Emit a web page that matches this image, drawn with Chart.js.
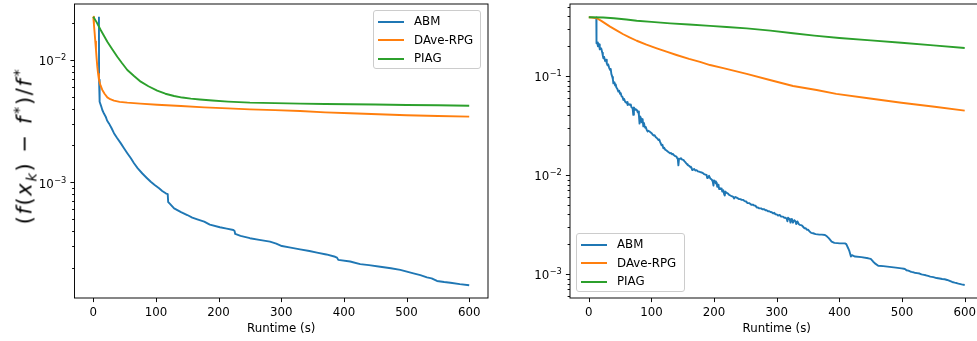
<!DOCTYPE html>
<html>
<head>
<meta charset="utf-8">
<script src="https://cdn.jsdelivr.net/npm/chart.js@4.4.1/dist/chart.umd.min.js"></script>
<style>
html,body{margin:0;padding:0;background:#fff;}
body{width:977px;height:341px;overflow:hidden;position:relative;font-family:"DejaVu Sans",sans-serif;}
canvas{position:absolute;top:0;}
#c1{left:0;}
#c2{left:490px;}
.legend{position:absolute;box-sizing:border-box;border:1px solid #cccccc;border-radius:3px;background:rgba(255,255,255,0.8);font-size:11.8px;color:#000;}
.legend .row{position:absolute;left:0;right:0;height:0;}
.legend .sw{position:absolute;left:4px;width:26px;height:2px;top:-1px;}
.legend .lb{position:absolute;left:40px;top:-7.5px;line-height:15px;white-space:nowrap;}
#ylab{position:absolute;left:25px;top:146px;transform:translate(-50%,-50%) rotate(-90deg);white-space:nowrap;font-size:21px;color:#000;line-height:1;letter-spacing:1.6px;}
#ylab i{font-style:italic;}
#ylab sub,#ylab sup{font-size:70%;line-height:0;}
#ylab sup{margin-left:1px;}
#ylab .op{padding:0 1px;}
</style>
</head>
<body>
<canvas id="c1" width="490" height="341"></canvas>
<canvas id="c2" width="500" height="341"></canvas>
<div id="ylab">(<i>f</i>(<i>x</i><sub><i>k</i></sub>)<span class="op"> − </span><i>f</i><sup>*</sup>)/<i>f</i><sup>*</sup></div>
<div id="leg1" class="legend" style="left:373px;top:10px;width:108px;height:59px;"></div>
<div id="leg2" class="legend" style="left:576px;top:233px;width:109px;height:59px;"></div>
<script>
// ---------- data ----------
const seriesNames = ['ABM', 'DAve-RPG', 'PIAG'];
const seriesColors = ['#1f77b4', '#ff7f0e', '#2ca02c'];

const xTicks = [0, 100, 200, 300, 400, 500, 600];
const xTickLabels = ['0', '100', '200', '300', '400', '500', '600'];

// left panel: [runtime, (f(x_k)-f*)/f*]
const leftABM = [[9.0,0.0226],[9.2,0.0069],[9.6,0.0068],[10.0,0.0046],[10.7,0.00456],[12.5,0.0042],[14.4,0.0039],[17,0.00365],[19.8,0.00344],[22,0.0032],[25,0.00303],[29,0.00278],[33,0.00252],[38,0.0023],[43.7,0.00209],[49,0.0019],[54.3,0.00173],[60,0.00157],[65,0.00143],[71,0.0013],[78.3,0.00118],[85,0.00109],[91.7,0.00101],[98,0.00095],[105,0.000893],[110,0.00085],[115.6,0.000813],[118.8,0.0008],[119.5,0.00069],[122,0.00067],[129,0.000612],[140,0.00057],[150,0.00054],[158,0.000515],[166,0.000498],[177,0.000477],[186,0.00045],[202,0.000429],[213,0.000418],[223.6,0.000407],[225.5,0.0004],[226.5,0.000378],[235,0.000365],[250,0.000349],[265,0.000338],[282,0.000327],[292,0.000315],[301,0.000301],[315,0.000292],[330,0.000283],[345,0.000274],[357,0.000266],[372,0.000257],[386,0.000246],[389,0.000242],[391,0.000232],[410,0.000225],[426,0.000214],[440,0.00021],[458,0.000204],[475,0.000198],[490,0.000192],[511,0.00018],[522,0.000174],[532.6,0.000167],[540,0.000164],[548.6,0.000156],[560,0.000153],[570,0.000151],[585,0.000147],[600,0.000144]];
const leftDAve = [[0,0.0226],[1,0.0195],[2.2,0.01653],[3.2,0.0142],[4.3,0.01208],[5.3,0.0103],[6.4,0.00882],[7.7,0.0077],[9.1,0.00686],[11.5,0.0062],[14.4,0.00569],[18,0.0053],[22.4,0.00495],[27,0.00478],[33,0.00465],[42,0.00455],[54.3,0.00448],[75,0.0044],[102,0.00431],[140,0.0042],[177,0.0041],[215,0.00402],[250,0.00395],[290,0.00389],[330,0.00383],[370,0.00373],[410,0.00367],[455,0.0036],[500,0.00353],[550,0.00348],[600,0.00344]];
const leftPIAG = [[0,0.0226],[5,0.0205],[11.8,0.01758],[17,0.0158],[22.4,0.01411],[30,0.0123],[38.3,0.01064],[46,0.0094],[54.3,0.00828],[65,0.0074],[75.7,0.00665],[88,0.0061],[102,0.00561],[115,0.0053],[129,0.00508],[142,0.00493],[155.6,0.00483],[170,0.00475],[190,0.00466],[215,0.00457],[250,0.00448],[290,0.00444],[330,0.0044],[370,0.00437],[410,0.00435],[450,0.00432],[500,0.00429],[550,0.00426],[600,0.00423]];

// right panel
const rightABM = [[12,0.390],[12.3,0.214],[13.5,0.218],[14.5,0.200],[15.2,0.212],[16.5,0.208],[17.5,0.186],[19,0.192],[20,0.188],[21.5,0.172],[22.4,0.160],[23.3,0.151],[24.5,0.156],[26,0.142],[27.5,0.146],[28.7,0.134],[30,0.128],[31,0.131],[32.5,0.121],[34,0.115],[35,0.118],[36,0.105],[37.5,0.098],[38.5,0.092],[39.2,0.0844],[41,0.0862],[42,0.080],[43,0.082],[44,0.0765],[45.5,0.0742],[47.2,0.0695],[48.5,0.071],[50,0.066],[51,0.0672],[52,0.063],[54,0.061],[55.2,0.0573],[56.5,0.0585],[58,0.055],[60,0.0535],[61,0.0545],[62,0.051],[64,0.052],[65.9,0.051],[67,0.0515],[68,0.0485],[70,0.047],[71,0.0405],[72,0.048],[74,0.0455],[75,0.0462],[76.6,0.0454],[78,0.043],[79,0.0438],[80,0.040],[81,0.033],[82,0.039],[83.5,0.037],[84.3,0.034],[85,0.0365],[86,0.036],[87,0.031],[88,0.0335],[89,0.0315],[90,0.030],[91,0.0305],[92.5,0.0285],[94,0.0275],[95,0.028],[97,0.0275],[99,0.0268],[100.5,0.0264],[102,0.0255],[104,0.025],[105,0.0252],[107,0.024],[109,0.0235],[111,0.0226],[112.5,0.0228],[114,0.0215],[116,0.020],[117.5,0.0202],[119,0.0186],[120.5,0.0188],[122,0.018],[124,0.0177],[125,0.0175],[127,0.0171],[129.7,0.0166],[131,0.0167],[133,0.0162],[134.5,0.0163],[136,0.0158],[138,0.0155],[140,0.0153],[141,0.0148],[142,0.0146],[143,0.0125],[144,0.0145],[146,0.0146],[147,0.0148],[149,0.0143],[151,0.0142],[152.5,0.0138],[154,0.0135],[156,0.013],[157,0.0128],[158,0.0126],[160,0.0124],[161.6,0.0121],[163,0.0119],[164,0.0118],[165,0.0112],[166,0.0113],[168,0.0115],[170,0.0111],[172,0.0112],[174,0.0109],[176,0.0108],[178,0.0107],[180,0.0106],[182.8,0.0104],[184,0.0102],[186,0.0101],[188,0.0100],[189,0.0093],[190,0.0094],[192,0.0098],[194,0.0092],[196,0.0090],[197,0.0088],[198,0.0085],[199,0.0078],[200,0.0088],[201.5,0.0086],[203,0.0082],[204,0.0084],[205,0.0076],[206,0.0080],[207,0.0080],[208,0.0072],[209,0.0074],[211,0.0072],[212,0.0073],[213,0.0068],[214.7,0.0070],[216,0.0064],[217,0.0062],[218,0.0068],[220,0.0066],[222,0.0065],[224,0.0063],[226,0.0062],[228,0.0061],[230.6,0.0060],[232,0.0058],[234,0.0060],[236,0.0059],[238,0.0058],[240,0.0057],[242,0.0057],[244,0.0056],[246.6,0.0056],[248,0.0055],[250,0.0054],[251.5,0.0054],[253,0.0052],[256,0.0052],[258,0.0051],[259,0.0050],[260.5,0.0050],[262.5,0.0050],[264,0.0049],[266,0.0049],[268,0.0047],[270,0.0047],[272,0.0046],[275,0.0046],[277,0.0045],[280,0.0045],[282,0.0044],[283.8,0.0044],[286,0.0043],[288,0.0043],[290,0.00423],[292,0.0042],[294,0.0041],[296,0.00415],[298,0.0040],[300,0.0040],[302,0.0039],[305,0.00394],[307,0.0038],[310,0.0038],[312,0.0037],[314,0.0037],[316,0.0036],[317,0.0034],[318,0.0037],[320,0.0036],[321,0.0035],[322,0.0033],[324,0.0036],[326,0.0033],[328,0.0035],[330,0.0034],[331,0.0032],[333,0.0034],[335,0.0032],[337,0.00313],[340,0.0031],[342,0.0030],[344,0.0029],[346,0.0029],[348,0.0028],[350,0.0028],[352,0.0027],[355,0.0026],[358,0.00258],[362,0.00253],[368,0.0025],[372,0.0025],[376.9,0.00248],[380,0.0024],[383,0.0023],[387.6,0.00212],[392,0.00206],[400.8,0.00204],[408.8,0.00204],[411,0.0020],[414,0.00182],[416,0.0017],[418.4,0.0015],[420,0.00155],[425,0.0015],[435,0.00148],[446,0.00144],[450,0.00142],[454,0.00133],[456.7,0.00128],[462,0.00121],[470,0.0012],[480,0.00118],[490,0.00116],[499,0.00114],[503,0.00113],[505,0.00112],[507,0.00109],[510,0.00108],[513,0.00106],[515,0.00105],[518,0.00104],[520,0.00103],[524,0.00102],[528,0.00101],[531,0.00099],[535,0.00098],[538,0.00097],[541.6,0.000955],[545,0.00094],[550,0.00093],[555,0.00091],[560,0.0009],[564,0.00089],[568,0.000884],[572,0.00087],[576,0.00085],[580,0.00083],[584,0.000817],[587,0.00081],[590,0.0008],[595,0.000785],[600,0.000775]];
const rightDAve = [[0,0.392],[5,0.390],[12.8,0.383],[20,0.36],[34,0.315],[45,0.287],[55,0.264],[65,0.245],[76.5,0.227],[92,0.207],[108.5,0.19],[124,0.176],[140,0.163],[160,0.149],[177.5,0.139],[193.5,0.129],[214.7,0.12],[252,0.105],[289,0.0911],[326,0.0793],[363.7,0.0722],[395,0.066],[446,0.0595],[499,0.0537],[552,0.0489],[600,0.0447]];
const rightPIAG = [[0,0.392],[23,0.39],[40,0.383],[60,0.372],[76.5,0.362],[100,0.352],[130,0.34],[160,0.331],[193.5,0.321],[220,0.313],[252,0.303],[290,0.287],[326,0.27],[360,0.256],[400,0.242],[450,0.229],[499,0.217],[550,0.204],[600,0.192]];

// y tick values
const leftYMajor = [1e-3, 1e-2];
const leftYMajorLabels = ['−3', '−2'];
const leftYMinor = [2e-4,3e-4,4e-4,5e-4,6e-4,7e-4,8e-4,9e-4,2e-3,3e-3,4e-3,5e-3,6e-3,7e-3,8e-3,9e-3,2e-2];
const rightYMajor = [1e-3, 1e-2, 1e-1];
const rightYMajorLabels = ['−3', '−2', '−1'];
const rightYMinor = [6e-4,7e-4,8e-4,9e-4,2e-3,3e-3,4e-3,5e-3,6e-3,7e-3,8e-3,9e-3,2e-2,3e-2,4e-2,5e-2,6e-2,7e-2,8e-2,9e-2,2e-1,3e-1,4e-1,5e-1];

// ---------- rendering ----------
Chart.defaults.font.family = '"DejaVu Sans", sans-serif';
const FS = 11.8;

const axesPlugin = {
  id: 'axesDeco',
  afterDraw(chart, args, o) {
    const {ctx, chartArea: a, scales} = chart;
    ctx.save();
    ctx.strokeStyle = '#000';
    ctx.lineWidth = 0.95;
    ctx.strokeRect(a.left, a.top, a.right - a.left, a.bottom - a.top);
    const xs = scales.x, ys = scales.y;
    ctx.beginPath();
    xs.ticks.forEach(t => {
      const px = Math.round(xs.getPixelForValue(t.value)) + 0.5;
      ctx.moveTo(px, a.bottom); ctx.lineTo(px, a.bottom + 4.1);
    });
    ys.ticks.forEach(t => {
      const py = Math.round(ys.getPixelForValue(t.value)) + 0.5;
      const L = t.major ? 4.1 : 2.4;
      ctx.moveTo(a.left - L, py); ctx.lineTo(a.left, py);
    });
    ctx.stroke();
    ctx.fillStyle = '#000';
    ctx.textBaseline = 'alphabetic';
    ctx.textAlign = 'left';
    const sfs = FS * 0.7;
    o.major.forEach((v, i) => {
      const py = ys.getPixelForValue(v);
      const exp = o.labels[i];
      const right = a.left - 8.2;
      ctx.font = sfs + 'px "DejaVu Sans"';
      const supW = ctx.measureText(exp).width;
      ctx.font = FS + 'px "DejaVu Sans"';
      const baseW = ctx.measureText('10').width;
      const x0 = right - supW - baseW - 0.5;
      ctx.fillText('10', x0, py + 5.3);
      ctx.font = sfs + 'px "DejaVu Sans"';
      ctx.fillText(exp, x0 + baseW + 0.5, py + 0.3);
    });
    ctx.restore();
  }
};

function buildChart(id, series, yMin, yMax, yMajor, yMajorLabels, yMinor, yWidth, padRight) {
  const datasets = series.map((s, i) => ({
    label: seriesNames[i],
    data: s.map(p => ({x: p[0], y: p[1]})),
    borderColor: seriesColors[i],
    backgroundColor: seriesColors[i],
    borderWidth: 1.9,
    pointRadius: 0,
    fill: false,
    tension: 0,
    borderJoinStyle: 'round',
    order: 3 - i
  }));
  return new Chart(document.getElementById(id), {
    type: 'line',
    data: {datasets},
    plugins: [axesPlugin],
    options: {
      responsive: false,
      animation: false,
      devicePixelRatio: 1,
      events: [],
      layout: {padding: {top: 4, right: padRight, left: 0, bottom: 0}},
      plugins: {
        legend: {display: false},
        tooltip: {enabled: false},
        axesDeco: {major: yMajor, labels: yMajorLabels}
      },
      scales: {
        x: {
          type: 'linear', min: -30, max: 630,
          afterBuildTicks: s => { s.ticks = xTicks.map(v => ({value: v})); },
          afterFit: s => { s.height = 43; },
          grid: {display: false, drawTicks: false},
          border: {display: false},
          ticks: {autoSkip: false, maxRotation: 0, padding: 8, color: '#000', font: {size: FS},
                  callback: v => xTickLabels[xTicks.indexOf(v)]},
          title: {display: true, text: 'Runtime (s)', color: '#000', font: {size: FS}, padding: {top: 0, bottom: 5}}
        },
        y: {
          type: 'logarithmic', min: yMin, max: yMax,
          afterBuildTicks: s => {
            s.ticks = yMajor.map(v => ({value: v, major: true})).concat(yMinor.map(v => ({value: v, major: false})));
          },
          afterFit: s => { s.width = yWidth; },
          grid: {display: false, drawTicks: false},
          border: {display: false},
          ticks: {display: false}
        }
      }
    }
  });
}

buildChart('c1', [leftABM, leftDAve, leftPIAG], 1.132e-4, 0.0287, leftYMajor, leftYMajorLabels, leftYMinor, 74.5, 2);
buildChart('c2', [rightABM, rightDAve, rightPIAG], 5.72e-4, 0.5336, rightYMajor, rightYMajorLabels, rightYMinor, 80, 6.5);

function buildLegend(id) {
  const el = document.getElementById(id);
  const rowY = [10.5, 29, 47.5];
  seriesNames.forEach((n, i) => {
    const row = document.createElement('div');
    row.className = 'row';
    row.style.top = rowY[i] + 'px';
    const sw = document.createElement('div');
    sw.className = 'sw';
    sw.style.background = seriesColors[i];
    const lb = document.createElement('div');
    lb.className = 'lb';
    lb.textContent = n;
    row.appendChild(sw); row.appendChild(lb);
    el.appendChild(row);
  });
}
buildLegend('leg1');
buildLegend('leg2');
</script>
</body>
</html>
